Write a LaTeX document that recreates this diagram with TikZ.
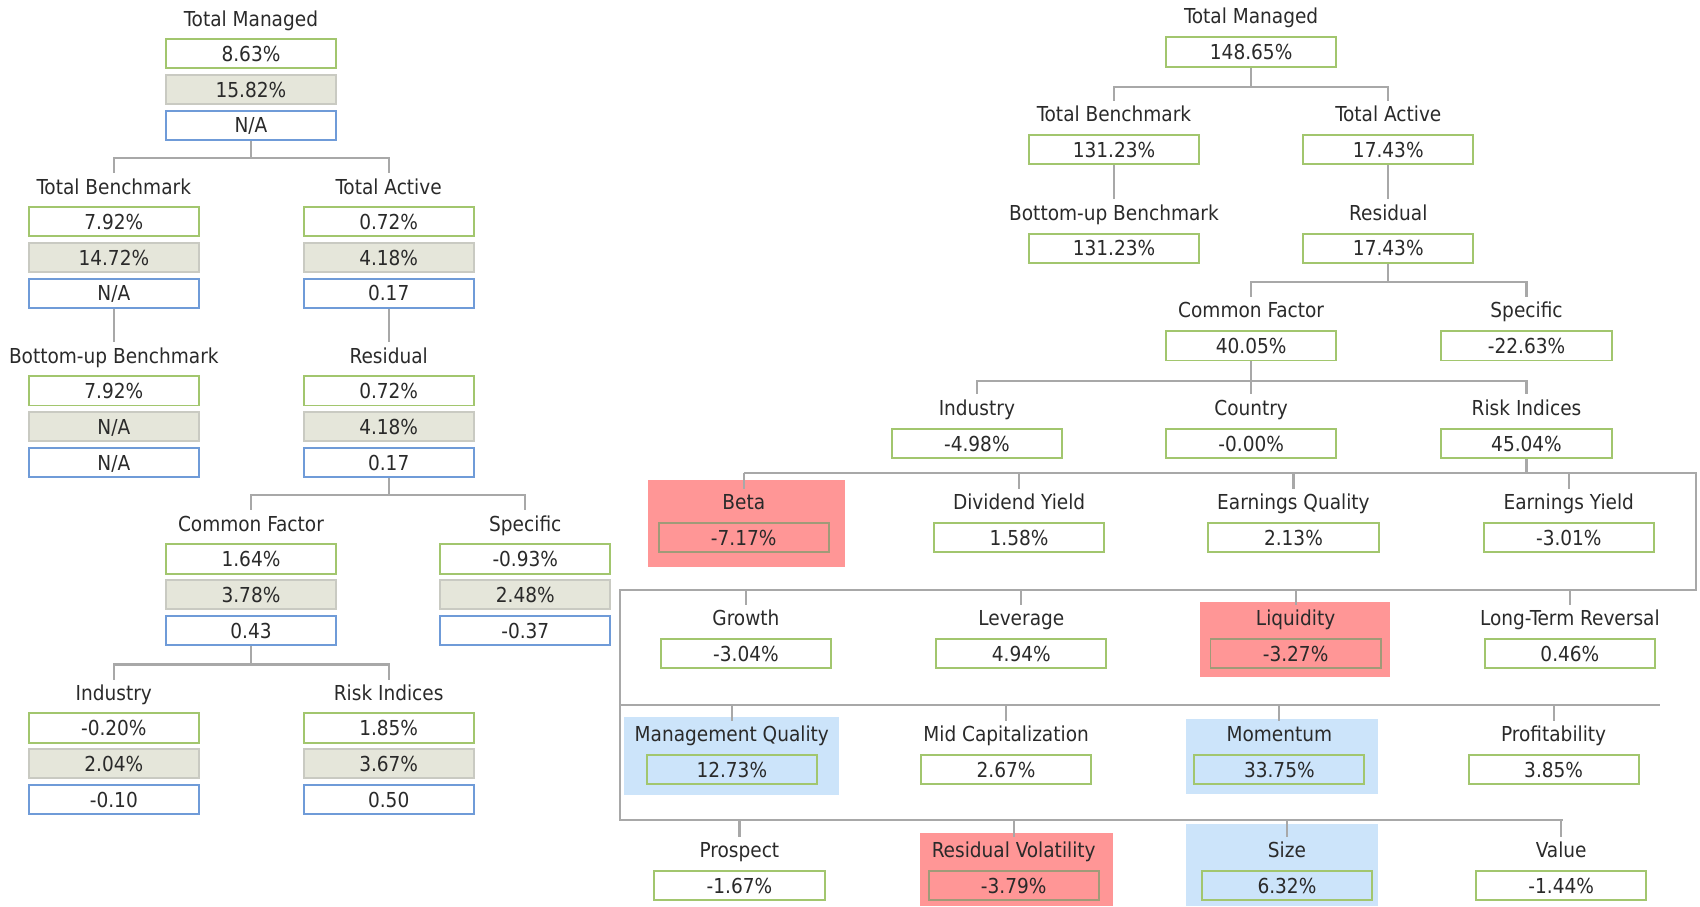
\documentclass[tikz,border=0pt]{standalone}
\usepackage{fontspec}
\setmainfont{DejaVu Sans Condensed}
\definecolor{gbc}{HTML}{A2C66E}
\definecolor{sbc}{HTML}{C9CAC2}
\definecolor{sfc}{HTML}{E5E6DA}
\definecolor{bbc}{HTML}{6F9BD8}
\definecolor{hlr}{HTML}{FF9696}
\definecolor{rbc}{HTML}{A09A78}
\definecolor{hlb}{HTML}{CCE4FA}
\definecolor{lnc}{HTML}{A8A8A8}
\definecolor{txt}{HTML}{2A2A2A}
\newcommand\trioboxes[7]{%
  \node[lbl] (#1) at (#2,#3) {#4};
  \node[gbox] (#1-1) at (#2,#3+32.5) {#5};
  \node[sbox] (#1-2) at (#2,#3+65.5) {#6};
  \node[bbox] (#1-3) at (#2,#3+98.5) {#7};}
\newcommand\onebox[6]{%
  \node[lbl] (#1) at (#2,#3) {#4};
  \node[#6] (#1-1) at (#2,#3+33) {#5};}
\begin{document}
\begin{tikzpicture}[x=1pt,y=-1pt,
  font=\fontsize{19}{22}\selectfont, text=txt,
  lbl/.style={inner xsep=0pt, inner ysep=5pt, text height=14pt, text depth=0pt},
  boxbase/.style={minimum width=157pt, minimum height=27pt, inner sep=0pt, line width=1.8pt, text height=14pt, text depth=0pt},
  gbox/.style={boxbase, draw=gbc, fill=white},
  sbox/.style={boxbase, draw=sbc, fill=sfc},
  bbox/.style={boxbase, draw=bbc, fill=white},
  rbox/.style={boxbase, draw=rbc, fill=hlr},
  qbox/.style={boxbase, draw=gbc, fill=hlb},
  hlred/.style={fill=hlr, inner sep=0pt},
  hlblue/.style={fill=hlb, inner sep=0pt},
  conn/.style={draw=lnc, line width=2pt}
]
\useasboundingbox (0,0) rectangle (1568,836);

% highlights
\node[hlred, minimum width=181pt, minimum height=80pt] (hl-beta) at (688.5,483) {};
\node[hlred, minimum width=175pt, minimum height=69pt] (hl-liq) at (1194.5,589.5) {};
\node[hlblue, minimum width=198pt, minimum height=72pt] (hl-mq) at (675,697) {};
\node[hlblue, minimum width=177pt, minimum height=69pt] (hl-mom) at (1182.5,697.5) {};
\node[hlred, minimum width=178pt, minimum height=68pt] (hl-rv) at (938,802) {};
\node[hlblue, minimum width=177pt, minimum height=76pt] (hl-size) at (1182.5,798) {};

% left tree
\trioboxes{L-tm}{231.5}{17}{Total Managed}{8.63\%}{15.82\%}{N/A}
\trioboxes{L-tb}{105}{172}{Total Benchmark}{7.92\%}{14.72\%}{N/A}
\trioboxes{L-ta}{358.5}{172}{Total Active}{0.72\%}{4.18\%}{0.17}
\trioboxes{L-bu}{105}{328}{Bottom-up Benchmark}{7.92\%}{N/A}{N/A}
\trioboxes{L-res}{358.5}{328}{Residual}{0.72\%}{4.18\%}{0.17}
\trioboxes{L-cf}{231.5}{483}{Common Factor}{1.64\%}{3.78\%}{0.43}
\trioboxes{L-sp}{484.5}{483}{Specific}{-0.93\%}{2.48\%}{-0.37}
\trioboxes{L-ind}{105}{639}{Industry}{-0.20\%}{2.04\%}{-0.10}
\trioboxes{L-ri}{358.5}{639}{Risk Indices}{1.85\%}{3.67\%}{0.50}

% right tree
\onebox{R-tm}{1154}{15}{Total Managed}{148.65\%}{gbox}
\onebox{R-tb}{1027.5}{105}{Total Benchmark}{131.23\%}{gbox}
\onebox{R-ta}{1280.5}{105}{Total Active}{17.43\%}{gbox}
\onebox{R-bu}{1027.5}{196}{Bottom-up Benchmark}{131.23\%}{gbox}
\onebox{R-res}{1280.5}{196}{Residual}{17.43\%}{gbox}
\onebox{R-cf}{1154}{286}{Common Factor}{40.05\%}{gbox}
\onebox{R-sp}{1408}{286}{Specific}{-22.63\%}{gbox}
\onebox{R-ind}{901}{376}{Industry}{-4.98\%}{gbox}
\onebox{R-cty}{1154}{376}{Country}{-0.00\%}{gbox}
\onebox{R-ri}{1408}{376}{Risk Indices}{45.04\%}{gbox}

\onebox{R-beta}{686}{463}{Beta}{-7.17\%}{rbox}
\onebox{R-dy}{940}{463}{Dividend Yield}{1.58\%}{gbox}
\onebox{R-eq}{1193}{463}{Earnings Quality}{2.13\%}{gbox}
\onebox{R-ey}{1447}{463}{Earnings Yield}{-3.01\%}{gbox}

\onebox{R-gr}{688}{570}{Growth}{-3.04\%}{gbox}
\onebox{R-lev}{942}{570}{Leverage}{4.94\%}{gbox}
\onebox{R-liq}{1195}{570}{Liquidity}{-3.27\%}{rbox}
\onebox{R-ltr}{1448}{570}{Long-Term Reversal}{0.46\%}{gbox}

\onebox{R-mq}{675}{677}{Management Quality}{12.73\%}{qbox}
\onebox{R-mc}{928}{677}{Mid Capitalization}{2.67\%}{gbox}
\onebox{R-mom}{1180}{677}{Momentum}{33.75\%}{qbox}
\onebox{R-prof}{1433}{677}{Profitability}{3.85\%}{gbox}

\onebox{R-pro}{682}{784}{Prospect}{-1.67\%}{gbox}
\onebox{R-rv}{935}{784}{Residual Volatility}{-3.79\%}{rbox}
\onebox{R-size}{1187}{784}{Size}{6.32\%}{qbox}
\onebox{R-val}{1440}{784}{Value}{-1.44\%}{gbox}

% left connectors
\draw[conn] (L-tm-3.south) -- ++(0,16) -| (L-tb.north);
\draw[conn] (L-tm-3.south) -- ++(0,16) -| (L-ta.north);
\draw[conn] (L-tb-3.south) -- (L-bu.north);
\draw[conn] (L-ta-3.south) -- (L-res.north);
\draw[conn] (L-res-3.south) -- ++(0,16) -| (L-cf.north);
\draw[conn] (L-res-3.south) -- ++(0,16) -| (L-sp.north);
\draw[conn] (L-cf-3.south) -- ++(0,17) -| (L-ind.north);
\draw[conn] (L-cf-3.south) -- ++(0,17) -| (L-ri.north);

% right connectors
\draw[conn] (R-tm-1.south) -- ++(0,18) -| (R-tb.north);
\draw[conn] (R-tm-1.south) -- ++(0,18) -| (R-ta.north);
\draw[conn] (R-tb-1.south) -- (R-bu.north);
\draw[conn] (R-ta-1.south) -- (R-res.north);
\draw[conn] (R-res-1.south) -- ++(0,17) -| (R-cf.north);
\draw[conn] (R-res-1.south) -- ++(0,17) -| (R-sp.north);
\draw[conn] (R-cf-1.south) -- ++(0,18) -| (R-ind.north);
\draw[conn] (R-cf-1.south) -- ++(0,18) -| (R-ri.north);
\draw[conn] (R-cf-1.south) -- (R-cty.north);

\coordinate (cr1) at (1564,436);
\coordinate (cr2) at (1564,544);
\coordinate (cl2) at (572,544);
\coordinate (cl3) at (572,650);
\coordinate (cl4) at (572,756);
\coordinate (e3) at (1531,650);
\coordinate (e4) at (1442,756);
\draw[conn] (R-ri-1.south) -- (R-ri-1.south |- cr1);
\draw[conn, line join=miter] (R-beta.north |- cr1) -- (cr1) -- (cr2) -- (cl2) -- (cl4) -- (e4);
\draw[conn] (cl3) -- (e3);
\foreach \n in {beta,dy,eq,ey} \draw[conn] (R-\n.north |- cr1) -- (R-\n.north);
\foreach \n in {gr,lev,liq,ltr} \draw[conn] (R-\n.north |- cl2) -- (R-\n.north);
\foreach \n in {mq,mc,mom,prof} \draw[conn] (R-\n.north |- cl3) -- (R-\n.north);
\foreach \n in {pro,rv,size,val} \draw[conn] (R-\n.north |- cl4) -- (R-\n.north);
\end{tikzpicture}
\end{document}
